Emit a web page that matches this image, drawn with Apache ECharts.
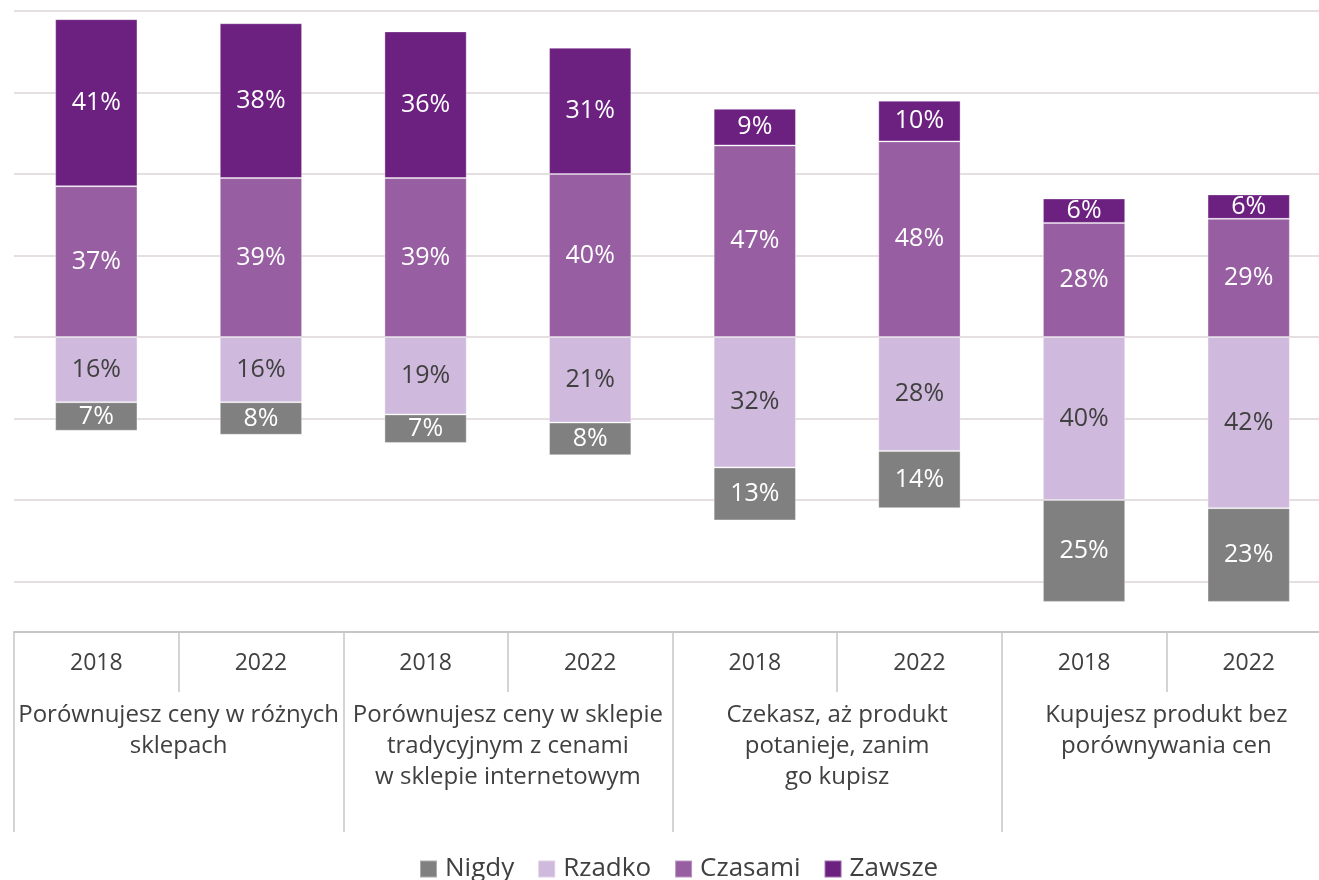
<!DOCTYPE html>
<html>
<head>
<meta charset="utf-8">
<script src="https://cdn.jsdelivr.net/npm/echarts@6/dist/echarts.min.js"></script>
<style>
  html, body { margin: 0; padding: 0; background: #fff; }
  #chart { width: 1319px; height: 880px; }
</style>
</head>
<body>
<div id="chart"></div>
<script>
const years = ['2018', '2022', '2018', '2022', '2018', '2022', '2018', '2022']
const groups = [
  'Porównujesz ceny w różnych\nsklepach',
  'Porównujesz ceny w sklepie\ntradycyjnym z cenami\nw sklepie internetowym',
  'Czekasz, aż produkt\npotanieje, zanim\ngo kupisz',
  'Kupujesz produkt bez\nporównywania cen'
]
// Nigdy and Rzadko are drawn below zero, Czasami and Zawsze above
const nigdy = [7, 8, 7, 8, 13, 14, 25, 23]
const rzadko = [16, 16, 19, 21, 32, 28, 40, 42]
const czasami = [37, 39, 39, 40, 47, 48, 28, 29]
const zawsze = [41, 38, 36, 31, 9, 10, 6, 6]

const font = 'Open Sans'
const textColor = '#404040'
const lineColor = '#c6c6c6'

function barSeries(name, values, color, labelColor, below) {
  return {
    name: name,
    type: 'bar',
    stack: 'total',
    barWidth: '50%',
    data: values.map(v => below ? -v : v),
    itemStyle: {
      color: color,
      borderColor: 'rgba(255,255,255,0.35)',
      borderWidth: 1
    },
    label: {
      show: true,
      position: 'inside',
      fontFamily: font,
      fontSize: 25,
      color: labelColor,
      formatter: p => Math.abs(p.value) + '%'
    }
  }
}

const chart = echarts.init(document.getElementById('chart'))
chart.setOption({
  backgroundColor: '#ffffff',
  animation: false,
  textStyle: { fontFamily: font },
  legend: {
    data: ['Nigdy', 'Rzadko', 'Czasami', 'Zawsze'],
    left: 414,
    top: 851,
    icon: 'rect',
    itemWidth: 17,
    itemHeight: 17,
    itemGap: 23,
    textStyle: {
      fontFamily: font,
      fontSize: 26,
      color: textColor,
      padding: [0, 0, 0, 3]
    }
  },
  grid: {
    left: 14,
    top: 11,
    width: 1317,
    height: 652,
    outerBoundsMode: 'none',
    containLabel: false
  },
  xAxis: [
    {
      type: 'category',
      data: years,
      position: 'bottom',
      offset: -31,
      axisLine: { show: true, onZero: false, lineStyle: { color: lineColor, width: 2 } },
      axisTick: { show: true, length: 60, interval: 0, lineStyle: { color: lineColor, width: 1.5 } },
      axisLabel: {
        interval: 0,
        margin: 16,
        fontFamily: font,
        fontSize: 23,
        lineHeight: 30,
        color: textColor
      }
    },
    {
      type: 'category',
      data: groups,
      position: 'bottom',
      offset: -31,
      axisLine: { show: false, onZero: false },
      axisTick: { show: true, length: 200, interval: 0, lineStyle: { color: lineColor, width: 1.5 } },
      axisLabel: {
        interval: 0,
        margin: 68,
        fontFamily: font,
        fontSize: 24,
        lineHeight: 31,
        color: textColor,
        align: 'center'
      }
    }
  ],
  yAxis: {
    type: 'value',
    min: -80,
    max: 80,
    interval: 20,
    axisLine: { show: false },
    axisTick: { show: false },
    axisLabel: { show: false },
    splitLine: {
      show: true,
      showMinLine: false,
      lineStyle: { color: '#e5dfe2', width: 2 }
    }
  },
  series: [
    barSeries('Rzadko', rzadko, '#cfb9dc', textColor, true),
    barSeries('Nigdy', nigdy, '#7f807f', '#ffffff', true),
    barSeries('Czasami', czasami, '#975ea2', '#ffffff', false),
    barSeries('Zawsze', zawsze, '#6c2181', '#ffffff', false)
  ]
})
</script>
</body>
</html>
